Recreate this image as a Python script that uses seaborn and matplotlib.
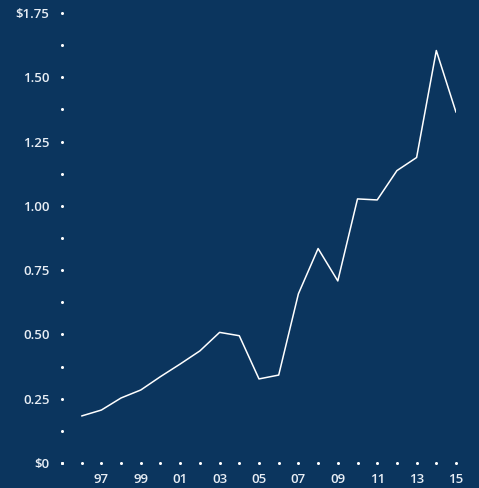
import matplotlib
matplotlib.use("Agg")
import matplotlib.pyplot as plt
import seaborn as sns
import pandas as pd
import numpy as np

years = [1996, 1997, 1998, 1999, 2000, 2001, 2002, 2003, 2004, 2005,
         2006, 2007, 2008, 2009, 2010, 2011, 2012, 2013, 2014, 2015]
values = [0.183, 0.206, 0.253, 0.284, 0.336, 0.385, 0.436, 0.508, 0.495, 0.327,
          0.342, 0.658, 0.834, 0.708, 1.027, 1.023, 1.137, 1.188, 1.604, 1.364]

y_ticks = [0, 0.25, 0.50, 0.75, 1.00, 1.25, 1.50, 1.75]
y_labels = ["$0", "0.25", "0.50", "0.75", "1.00", "1.25", "1.50", "$1.75"]
x_label_years = list(range(1997, 2016, 2))
x_labels = ["97", "99", "01", "03", "05", "07", "09", "11", "13", "15"]

BG = "#0b355e"
FG = "#ffffff"

sns.set_theme(style="white")
plt.rcParams['font.family'] = ['Open Sans', 'DejaVu Sans']

df = pd.DataFrame({"year": years, "value": values})

fig = plt.figure(figsize=(4.79, 4.88), dpi=100, facecolor=BG)
ax = fig.add_axes([0.1294, 0.0512, 0.952 - 0.1294, 0.9734 - 0.0512])
ax.set_facecolor(BG)

sns.lineplot(data=df, x="year", y="value", ax=ax, color=FG, linewidth=1.1)

ax.set_xlim(1995, 2015)
ax.set_ylim(0, 1.75)
for s in ax.spines.values():
    s.set_visible(False)

ax.set_yticks(y_ticks)
ax.set_yticklabels(y_labels)
ax.set_yticks(np.arange(0.125, 1.75, 0.25), minor=True)
ax.set_xticks(x_label_years)
ax.set_xticklabels(x_labels)
ax.set_xticks([y for y in range(1995, 2016) if y not in x_label_years], minor=True)

ax.tick_params(axis="both", which="both", length=0, colors=FG)
ax.tick_params(axis="y", which="major", pad=9, labelsize=9.5, labelcolor="#e8eef5")
ax.tick_params(axis="x", which="major", pad=7, labelsize=9.5, labelcolor="#e8eef5")
for lab in ax.get_xticklabels() + ax.get_yticklabels():
    lab.set_fontweight("semibold")

for axis in (ax.xaxis, ax.yaxis):
    for t in axis.get_major_ticks() + axis.get_minor_ticks():
        t.tick1line.set_marker("o")
        t.tick1line.set_markersize(2.2)
        t.tick1line.set_markeredgewidth(0)
        t.tick1line.set_markerfacecolor(FG)
        t.tick1line.set_visible(True)

ax.set_xlabel("")
ax.set_ylabel("")
fig.savefig("out.png", dpi=100, facecolor=BG)
